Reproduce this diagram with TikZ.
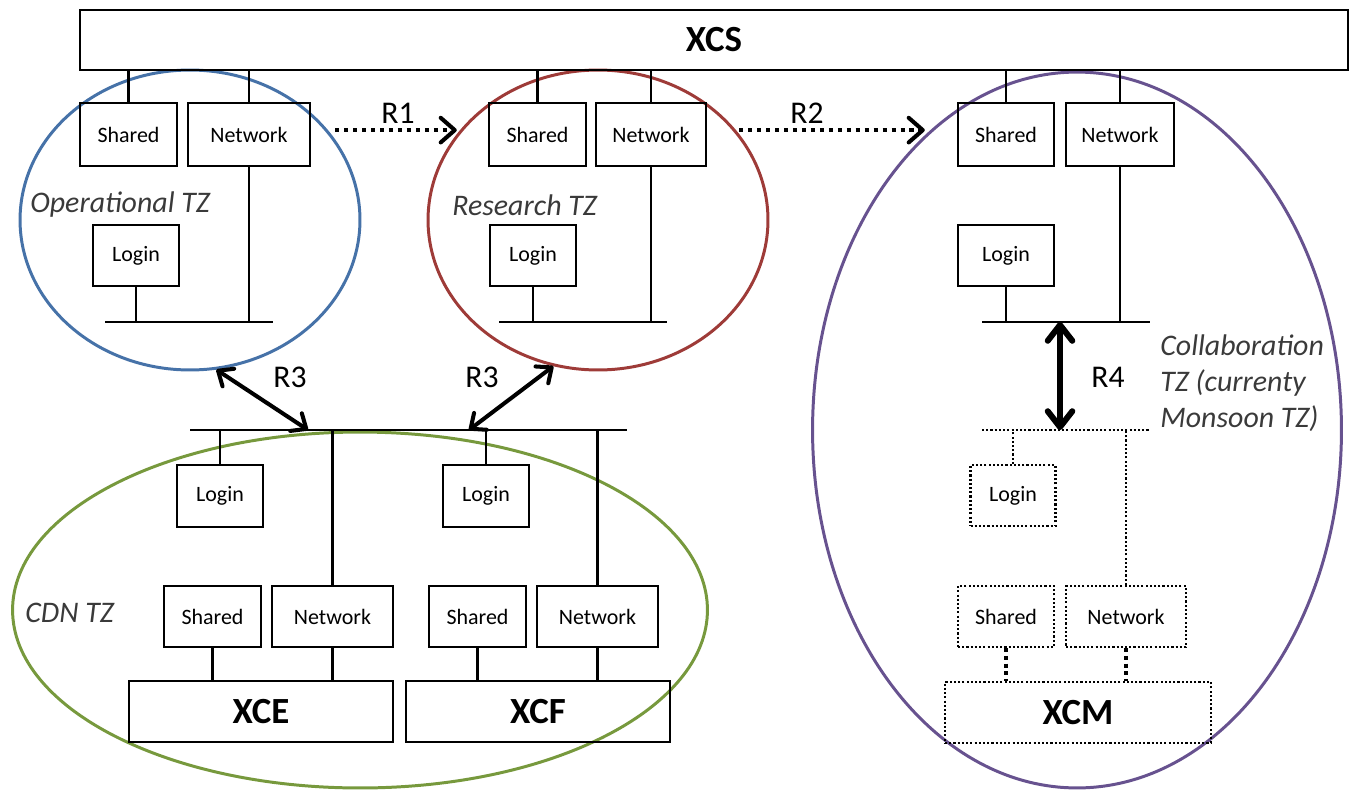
\documentclass[tikz,border=0pt]{standalone}
\usepackage{fontspec}
\setmainfont{Carlito}
\usepackage{tikz}
\usetikzlibrary{arrows.meta,positioning,shapes.geometric,calc}

\definecolor{opblue}{HTML}{4672A8}
\definecolor{resred}{HTML}{9E3B38}
\definecolor{colpurple}{HTML}{67528F}
\definecolor{cdngreen}{HTML}{77993D}
\definecolor{tzgray}{HTML}{3A3A3A}

\begin{document}
\begin{tikzpicture}[x=0.02cm, y=-0.02cm,
    box/.style={draw, line width=1.4pt, inner sep=0pt, minimum height=1.26cm,
      font=\fontsize{12.5}{14}\selectfont},
    dbox/.style={box, line width=1.2pt, dash pattern=on 1.2pt off 1.2pt},
    sysbox/.style={draw, line width=1.4pt, inner sep=0pt, minimum height=1.22cm,
      font=\fontsize{21}{24}\selectfont\bfseries},
    zone/.style={ellipse, draw, line width=1.7pt, inner sep=0pt},
    tz/.style={font=\fontsize{17}{20.5}\selectfont\itshape, text=tzgray, inner sep=0pt},
    rlab/.style={font=\fontsize{18}{20}\selectfont},
    link/.style={line width=1.5pt},
    dlink/.style={line width=1.2pt, dash pattern=on 1.2pt off 1.2pt},
    dfeed/.style={line width=2.3pt, dash pattern=on 2.4pt off 2pt},
    flow/.style={line width=2.3pt, dash pattern=on 2.3pt off 2.8pt,
      -{Straight Barb[round, length=8pt, width=14pt]}},
    both/.style={line width=2.3pt,
      {Straight Barb[round, length=7pt, width=12pt]}-{Straight Barb[round, length=7pt, width=12pt]}},
    bothbig/.style={line width=3.4pt,
      {Straight Barb[round, length=9pt, width=14pt]}-{Straight Barb[round, length=9pt, width=14pt]}}]
  \useasboundingbox (0,0) rectangle (1354,791);

  % Trust zones
  \node[zone, draw=opblue, minimum width=6.8cm, minimum height=6cm] (optz) at (190,220) {};
  \node[zone, draw=resred, minimum width=6.8cm, minimum height=6cm] (restz) at (598,220) {};
  \node[zone, draw=colpurple, minimum width=10.58cm, minimum height=14.32cm] (coltz) at (1077,430) {};
  \node[zone, draw=cdngreen, minimum width=13.9cm, minimum height=7.12cm] (cdntz) at (360,610) {};

  \node[tz, anchor=west] (oplab) at (30,205) {Operational TZ};
  \node[tz, anchor=west] (reslab) at (452,205) {Research TZ};
  \node[tz, anchor=west] (cdnlab) at (25,613) {CDN TZ};
  \node[tz, anchor=west, align=left] (collab) at (1160,383) {Collaboration\\TZ (currenty\\Monsoon TZ)};

  % XCS and the services it feeds
  \node[sysbox, minimum width=25.36cm, minimum height=1.2cm] (xcs) at (714,40) {XCS};

  \node[box, minimum width=1.94cm] (sh1) at (128.5,134.5) {Shared};
  \node[box, minimum width=2.44cm] (nw1) at (249,134.5) {Network};
  \node[box, minimum width=1.94cm] (sh2) at (537.5,134.5) {Shared};
  \node[box, minimum width=2.2cm] (nw2) at (651,134.5) {Network};
  \node[box, minimum width=1.92cm] (sh3) at (1006,134.5) {Shared};
  \node[box, minimum width=2.16cm] (nw3) at (1120,134.5) {Network};

  \node[box, minimum width=1.72cm, minimum height=1.22cm] (lg1) at (136,255.5) {Login};
  \node[box, minimum width=1.72cm, minimum height=1.22cm] (lg2) at (533,255.5) {Login};
  \node[box, minimum width=1.92cm, minimum height=1.22cm] (lg3) at (1006,255.5) {Login};

  \coordinate (busw1) at (105,322);  \coordinate (buse1) at (273,322);
  \coordinate (busw2) at (499,322);  \coordinate (buse2) at (667,322);
  \coordinate (busw3) at (982,322);  \coordinate (buse3) at (1150,322);

  \foreach \i in {1,2,3} {
    \draw[link] (busw\i) -- (buse\i);
    \draw[link] (lg\i) -- (lg\i |- busw\i);
    \draw[link] (nw\i) -- (nw\i |- busw\i);
    \draw[link] (sh\i) -- (sh\i |- xcs.south);
    \draw[link] (nw\i) -- (nw\i |- xcs.south);
  }

  % CDN zone
  \coordinate (cbusw) at (190,430);  \coordinate (cbuse) at (627,430);
  \node[box, minimum width=1.72cm, minimum height=1.24cm] (lg4) at (220,496) {Login};
  \node[box, minimum width=1.72cm, minimum height=1.24cm] (lg5) at (486,496) {Login};
  \node[box, minimum width=1.94cm, minimum height=1.22cm] (sh4) at (212.5,616.5) {Shared};
  \node[box, minimum width=2.42cm, minimum height=1.22cm] (nw4) at (332.5,616.5) {Network};
  \node[box, minimum width=1.94cm, minimum height=1.22cm] (sh5) at (477.5,616.5) {Shared};
  \node[box, minimum width=2.42cm, minimum height=1.22cm] (nw5) at (597.5,616.5) {Network};
  \node[sysbox, minimum width=5.28cm] (xce) at (261,711.5) {XCE};
  \node[sysbox, minimum width=5.28cm] (xcf) at (538,711.5) {XCF};

  \draw[link] (cbusw) -- (cbuse);
  \foreach \i/\s in {4/xce, 5/xcf} {
    \draw[link] (lg\i) -- (lg\i |- cbusw);
    \draw[link] (nw\i) -- (nw\i |- cbusw);
    \draw[link] (sh\i) -- (sh\i |- \s.north);
    \draw[link] (nw\i) -- (nw\i |- \s.north);
  }

  % Collaboration zone (planned)
  \coordinate (dbusw) at (982,430);  \coordinate (dbuse) at (1150,430);
  \node[dbox, minimum width=1.7cm, minimum height=1.22cm] (lg6) at (1013,495.5) {Login};
  \node[dbox, minimum width=1.92cm, minimum height=1.22cm] (sh6) at (1006,616.5) {Shared};
  \node[dbox, minimum width=2.4cm, minimum height=1.22cm] (nw6) at (1126,616.5) {Network};
  \node[sysbox, line width=1.2pt, dash pattern=on 1.2pt off 1.2pt, minimum width=5.32cm] (xcm) at (1078,712.5) {XCM};

  \draw[dlink] (dbusw) -- (dbuse);
  \draw[dlink] (lg6) -- (lg6 |- dbusw);
  \draw[dlink] (nw6) -- (nw6 |- dbusw);
  \draw[dfeed] (sh6) -- (sh6 |- xcm.north);
  \draw[dfeed] (nw6) -- (nw6 |- xcm.north);

  % Relations
  \draw[flow, shorten <=0.48cm, shorten >=0.62cm] ([yshift=2.5pt]nw1.east) -- ([yshift=2.5pt]sh2.west);
  \draw[flow, shorten <=0.64cm, shorten >=0.64cm] ([yshift=2.5pt]nw2.east) -- ([yshift=2.5pt]sh3.west);
  \node[rlab] (r1) at (398,113) {R1};
  \node[rlab] (r2) at (807,113) {R2};

  \coordinate (r3l) at (308,430);
  \coordinate (r3r) at (469,430);
  \draw[both] (optz.280) -- (r3l);
  \draw[both] (restz.253) -- (r3r);
  \node[rlab] (r3a) at (290,377) {R3};
  \node[rlab] (r3b) at (482,377) {R3};

  \coordinate (r4top) at (1060,322);
  \coordinate (r4bot) at (1060,430);
  \draw[bothbig] (r4top) -- (r4bot);
  \node[rlab] (r4) at (1108,377) {R4};
\end{tikzpicture}
\end{document}
